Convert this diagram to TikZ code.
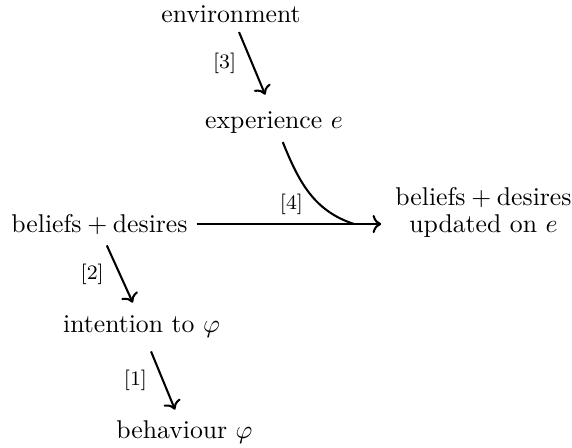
\documentclass[tikz,border=0pt]{standalone}
\usepackage{amsmath,amssymb}
\usepackage{tikz}
\usetikzlibrary{arrows.meta,calc}

\begin{document}
\begin{tikzpicture}[
  txt/.style={anchor=base},
  arr/.style={->, thick},
  lbl/.style={font=\footnotesize}
]
  \useasboundingbox (0,0) rectangle (7.825,-6.115);
  \node[txt] (env) at (3.160,-0.311) {environment};
  \node[txt] (exp) at (3.748,-1.751) {experience $e$};
  \node[txt] (bd) at (1.361,-3.174) {beliefs${}+{}$desires};
  \node[txt] (bdu) at (6.614,-3.187)
    {\shortstack{beliefs${}+{}$desires\\updated on $e$}};
  \node[txt] (int) at (1.936,-4.555) {intention to $\varphi$};
  \node[txt] (beh) at (2.524,-5.992) {behaviour $\varphi$};

  \draw[arr] ([xshift=0.11cm]env.south) -- node[lbl, left=2.5pt] {[3]}
    ([xshift=-0.12cm, yshift=0.1cm]exp.north);
  \draw[arr, shorten >=2pt] (bd.east) -- node[lbl, above] {[4]}
    (bd.east -| bdu.west);
  \coordinate (m) at ($(bd.east)!0.83!(bd.east -| bdu.west)$);
  \draw[thick] ([xshift=0.12cm]exp.south) to[out=-68, in=162] (m);
  \draw[arr] ([xshift=0.1cm, yshift=-0.03cm]bd.south) -- node[lbl, left=2.5pt] {[2]}
    ([xshift=-0.12cm, yshift=0.06cm]int.north);
  \draw[arr] ([xshift=0.13cm, yshift=-0.06cm]int.south) -- node[lbl, left=2.5pt] {[1]}
    ([xshift=-0.13cm, yshift=0.02cm]beh.north);
\end{tikzpicture}
\end{document}
